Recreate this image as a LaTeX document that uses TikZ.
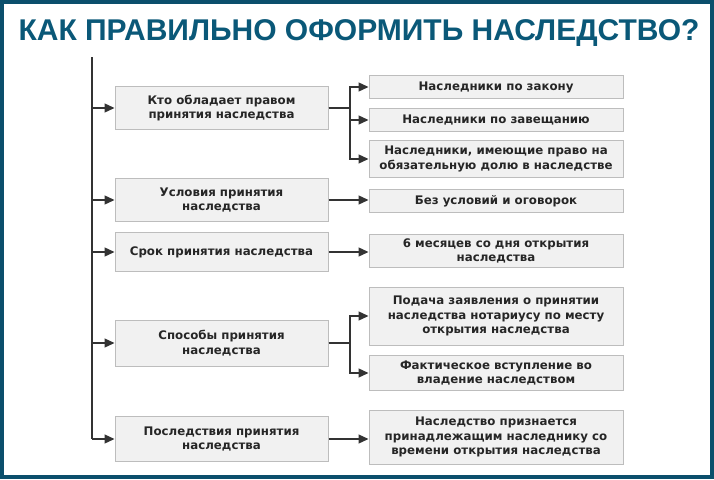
\documentclass[tikz,border=0pt]{standalone}
\usepackage{fontspec}
\setmainfont{DejaVu Sans}
\newfontfamily\titlefont{Liberation Sans}
\usetikzlibrary{arrows.meta}
\definecolor{frameteal}{HTML}{0B4F6C}
\definecolor{titleblue}{HTML}{0A5878}
\definecolor{boxfill}{HTML}{F1F1F1}
\definecolor{boxline}{HTML}{BDBDBD}
\definecolor{linegray}{HTML}{333333}
\tikzset{
  infobox/.style={draw=boxline,fill=boxfill,line width=1pt,align=center,
    font=\fontsize{11.8}{14.5}\selectfont\bfseries,text=black!85,inner sep=0pt},
  leftbox/.style={infobox,minimum width=213pt},
  rightbox/.style={infobox,minimum width=254pt},
  link/.style={linegray,line width=1.3pt,-{Triangle[length=10pt,width=9pt]}}
}
\begin{document}
\begin{tikzpicture}[x=1pt,y=-1pt]
  \fill[white] (0,0) rectangle (714,479);
  \draw[frameteal,line width=4pt] (2,2) rectangle (712,477);
  \node[text=titleblue,font=\fontsize{30}{34}\selectfont\bfseries\titlefont] (title) at (359,33) {КАК ПРАВИЛЬНО ОФОРМИТЬ НАСЛЕДСТВО?};
  % left column
  \node[leftbox,minimum height=43pt] (who) at (221.5,108) {Кто обладает правом\\принятия наследства};
  \node[leftbox,minimum height=43pt] (cond) at (221.5,200) {Условия принятия\\наследства};
  \node[leftbox,minimum height=39pt] (term) at (221.5,252) {Срок принятия наследства};
  \node[leftbox,minimum height=46pt] (ways) at (221.5,343) {Способы принятия\\наследства};
  \node[leftbox,minimum height=45pt] (cons) at (221.5,439) {Последствия принятия\\наследства};
  % right column
  \node[rightbox,minimum height=23pt] (law) at (496,87) {Наследники по закону};
  \node[rightbox,minimum height=23pt] (will) at (496,120) {Наследники по завещанию};
  \node[rightbox,minimum height=37pt] (share) at (496,159) {Наследники, имеющие право на\\обязательную долю в наследстве};
  \node[rightbox,minimum height=23pt] (free) at (496,201) {Без условий и оговорок};
  \node[rightbox,minimum height=33pt] (six) at (496,251) {6 месяцев со дня открытия\\наследства};
  \node[rightbox,minimum height=58pt] (notary) at (496,316) {Подача заявления о принятии\\наследства нотариусу по месту\\открытия наследства};
  \node[rightbox,minimum height=35pt] (fact) at (496,373) {Фактическое вступление во\\владение наследством};
  \node[rightbox,minimum height=54pt] (since) at (496,437) {Наследство признается\\принадлежащим наследнику со\\времени открытия наследства};
  % trunk
  \coordinate (top) at (92,57);
  \coordinate (bot) at (92,439);
  \draw[linegray,line width=1.3pt] (top) -- (bot);
  \foreach \n in {who,cond,term,ways,cons}
    \draw[link] (92,0 |- \n.west) -- (\n.west);
  % branches
  \foreach \n in {law,will,share}
    \draw[link] (who.east) -- (350,0 |- who.east) |- (\n.west);
  \draw[link] (cond.east) -- (cond.east -| free.west);
  \draw[link] (term.east) -- (term.east -| six.west);
  \foreach \n in {notary,fact}
    \draw[link] (ways.east) -- (350,0 |- ways.east) |- (\n.west);
  \draw[link] (cons.east) -- (cons.east -| since.west);
\end{tikzpicture}
\end{document}
